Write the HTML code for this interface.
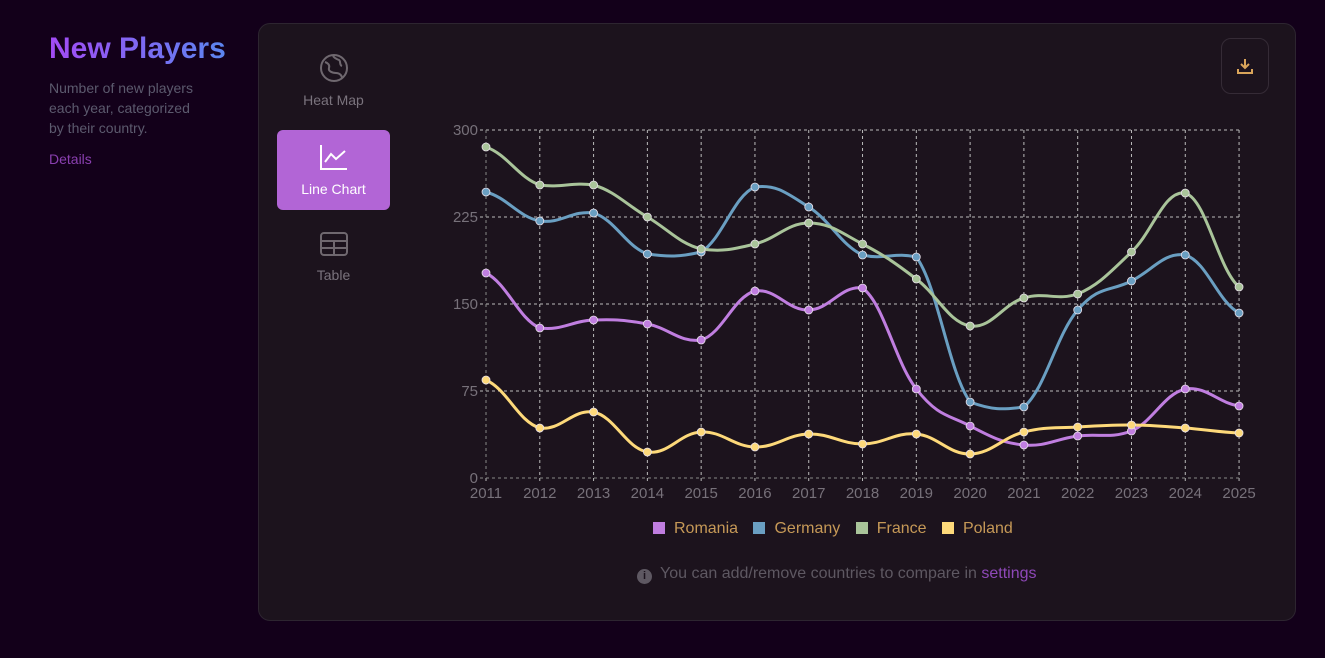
<!DOCTYPE html><html><head><meta charset="utf-8"><style>
body{margin:0;width:1325px;height:658px;background:#13001a;font-family:"Liberation Sans",sans-serif;overflow:hidden;position:relative}
h1{position:absolute;left:49px;top:32px;margin:0;font-size:30px;font-weight:bold;background:linear-gradient(90deg,#a34bf5,#5b86f0);-webkit-background-clip:text;color:transparent}
.desc{position:absolute;left:49px;top:78px;font-size:14px;line-height:20px;color:#5c5a6e;width:150px}
.det{position:absolute;left:49px;top:151px;font-size:14px;color:#8a3fb0}
.card{position:absolute;left:258px;top:23px;width:1036px;height:596px;background:#1c131d;border:1px solid #2d2530;border-radius:12px}
.it{position:absolute;left:277px;width:113px;text-align:center;color:#7a737d;font-size:14px}
.act{background:#b265d6;color:#fff;border-radius:6px;top:130px;height:80px}
.dl{position:absolute;left:1221px;top:38px;width:46px;height:54px;border:1px solid #352b36;border-radius:10px}
</style></head><body>
<h1>New Players</h1>
<div class="desc">Number of new players each year, categorized by their country.</div>
<div class="det">Details</div>
<div class="card"></div>
<div class="it" style="top:53px"><svg width="30" height="30" viewBox="0 0 30 30"><circle cx="15" cy="15" r="13" fill="none" stroke="#6f686f" stroke-width="2"/><path d="M6 9c3 1 5 3 4 6s3 5 7 5 6 3 6 5M14 3c2 3 4 3 6 4s0 5 3 6" fill="none" stroke="#6f686f" stroke-width="2"/></svg><div style="margin-top:6px">Heat Map</div></div>
<div class="it act"><svg style="margin-top:13px" width="30" height="28" viewBox="0 0 30 28"><path d="M2 2v24h26M6 19l6-8 5 5 9-8" fill="none" stroke="#fff" stroke-width="2"/></svg><div style="margin-top:7px">Line Chart</div></div>
<div class="it" style="top:231px"><svg width="30" height="26" viewBox="0 0 30 26"><rect x="2" y="2" width="26" height="22" rx="3" fill="none" stroke="#6f686f" stroke-width="2"/><path d="M2 10h26M2 17h26M15 10v14" stroke="#6f686f" stroke-width="2"/></svg><div style="margin-top:7px">Table</div></div>
<div class="dl"><svg style="position:absolute;left:14px;top:18px" width="18" height="18" viewBox="0 0 18 18"><path d="M9 2v9M5 7l4 4 4-4M2 12v4h14v-4" fill="none" stroke="#d9a45a" stroke-width="2"/></svg></div>
<svg id="c" width="1325" height="658" style="position:absolute;left:0;top:0"></svg>
<div style="position:absolute;left:653px;top:520px;white-space:nowrap;font-size:16px;color:#c69957">
<span style="display:inline-block;width:12px;height:12px;background:#c07ee0;vertical-align:-1px;margin-right:9px"></span>Romania
<span style="display:inline-block;width:12px;height:12px;background:#6a9fc2;vertical-align:-1px;margin:0 9px 0 11px"></span>Germany
<span style="display:inline-block;width:12px;height:12px;background:#a9c49a;vertical-align:-1px;margin:0 9px 0 11px"></span>France
<span style="display:inline-block;width:12px;height:12px;background:#fdd97a;vertical-align:-1px;margin:0 9px 0 11px"></span>Poland</div>
<div style="position:absolute;left:637px;top:565px;font-size:16px;color:#5e5862;white-space:nowrap"><span style="display:inline-block;width:15px;height:15px;border-radius:50%;background:#5e5862;color:#1c131d;font-size:11px;text-align:center;line-height:15px;font-weight:bold;margin-right:8px;vertical-align:-1px">i</span>You can add/remove countries to compare in <span style="color:#8e48b8">settings</span></div>
<script>
var s='',x0=486,dx=53.79;
for(var i=0;i<15;i++){var x=x0+i*dx;s+='<line x1="'+x+'" y1="130" x2="'+x+'" y2="483" stroke="#bbb" stroke-dasharray="3,3" stroke-width="1"/>';
s+='<text x="'+x+'" y="498" fill="#77717a" font-size="15" text-anchor="middle" font-family="Liberation Sans">'+(2011+i)+'</text>';}
[[0,478],[75,391],[150,304],[225,217],[300,130]].forEach(function(t){s+='<line x1="480" y1="'+t[1]+'" x2="1239" y2="'+t[1]+'" stroke="#bbb" stroke-dasharray="3,3"/>';s+='<text x="478" y="'+(t[1]+5)+'" fill="#77717a" font-size="15" text-anchor="end" font-family="Liberation Sans">'+t[0]+'</text>';});
s+='<line x1="486" y1="130" x2="486" y2="478" stroke="#888" stroke-dasharray="3,3"/><line x1="480" y1="478" x2="1239" y2="478" stroke="#888" stroke-dasharray="3,3"/>';
var D=[["#c07ee0",[273,328,320,324,340,291,310,288,389,426,445,436,431,389,406]],
["#6a9fc2",[192,221,213,254,252,187,207,255,257,402,407,310,281,255,313]],
["#a9c49a",[147,185,185,217,249,244,223,244,279,326,298,294,252,193,287]],
["#fdd97a",[380,428,412,452,432,447,434,444,434,454,432,427,425,428,433]]];
D.forEach(function(d){var y=d[1],n=y.length,p='M'+x0+' '+y[0],k=0.2;
for(var i=0;i<n-1;i++){var a=y[Math.max(i-1,0)],b=y[i],c=y[i+1],e=y[Math.min(i+2,n-1)];
var m1=(c-a)*k,m2=(e-b)*k;
var lo=Math.min(b,c),hi=Math.max(b,c);
var c1=Math.min(Math.max(b+m1,lo-3),hi+3),c2=Math.min(Math.max(c-m2,lo-3),hi+3);
var xa=x0+i*dx,xb=xa+dx;p+=' C'+(xa+dx*0.4)+' '+c1+' '+(xb-dx*0.4)+' '+c2+' '+xb+' '+c;}
s+='<path d="'+p+'" fill="none" stroke="'+d[0]+'" stroke-width="3"/>';
y.forEach(function(v,i){s+='<circle cx="'+(x0+i*dx)+'" cy="'+v+'" r="4" fill="'+d[0]+'" stroke="#e8e0ea" stroke-width="0.8"/>'});});
document.getElementById('c').innerHTML=s;
</script></body></html>
